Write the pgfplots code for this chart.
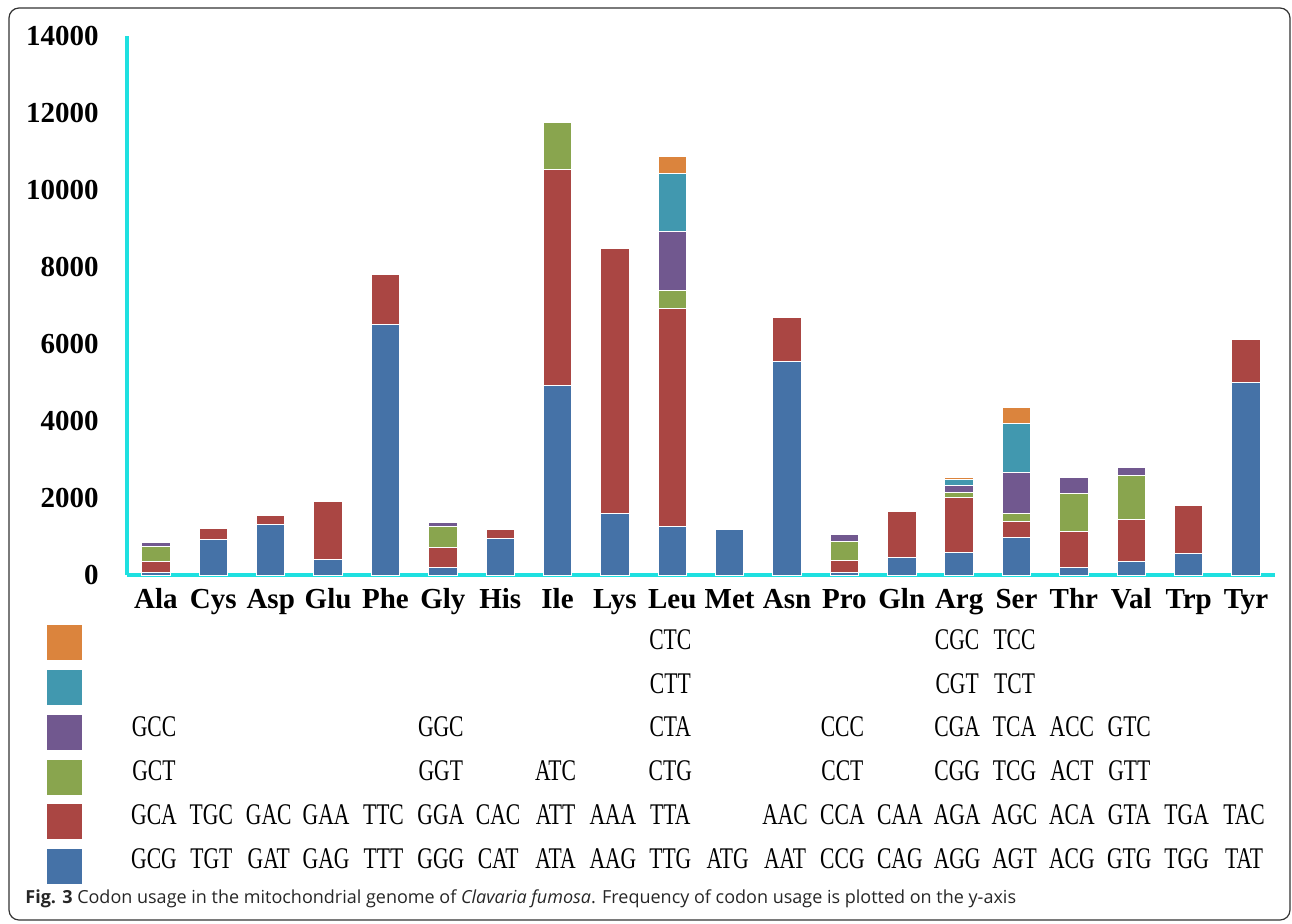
\documentclass[border=0pt]{standalone}
\usepackage{fontspec}
\setmainfont{Liberation Serif}
\newfontfamily\codonfont[FakeStretch=0.72]{Liberation Serif}
\newfontfamily\capfont{Open Sans}
\usepackage{pgfplots}
\pgfplotsset{compat=1.18}
\usepackage{pgfplotstable}
\definecolor{cblue}{HTML}{4572A7}
\definecolor{cred}{HTML}{AA4643}
\definecolor{cgreen}{HTML}{89A54E}
\definecolor{cpurple}{HTML}{71588F}
\definecolor{cteal}{HTML}{4198AF}
\definecolor{corange}{HTML}{DB843D}
\definecolor{axcyan}{HTML}{1EE0E0}

\pgfplotstableread{
x b r g p t o
0 70 285 397 104 0 0
1 926 293 0 0 0 0
2 1323 233 0 0 0 0
3 415 1505 0 0 0 0
4 6503 1305 0 0 0 0
5 200 526 537 104 0 0
6 942 243 0 0 0 0
7 4929 5595 1235 0 0 0
8 1591 6883 0 0 0 0
9 1263 5663 475 1530 1505 441
10 1193 0 0 0 0 0
11 5533 1160 0 0 0 0
12 70 319 485 172 0 0
13 459 1201 0 0 0 0
14 579 1436 121 199 147 60
15 968 415 217 1054 1281 423
16 190 943 977 415 0 0
17 355 1080 1142 207 0 0
18 571 1236 0 0 0 0
19 4989 1116 0 0 0 0
}\codons

\def\rA{-146.5pt}
\def\rB{-124.65pt}
\def\rC{-102.8pt}
\def\rD{-80.95pt}
\def\rE{-59.1pt}
\def\rF{-37.25pt}
\newcommand{\cod}[3]{\node[codon, yshift=#2] at (axis cs:#1,0) {#3};}
\tikzset{codon/.style={font=\codonfont\fontsize{15}{15}\selectfont, anchor=base, inner sep=0pt, xshift=-1pt}}

\begin{document}
\begin{tikzpicture}
\useasboundingbox (0,0) rectangle (646pt,-461.5pt);
\draw[rounded corners=5pt, line width=0.6pt, black!80] (4.5pt,-4pt) rectangle (645pt,-460pt);
\begin{axis}[
  at={(63.5pt,-287.5pt)}, anchor=south west,
  scale only axis, width=574pt, height=269.5pt,
  ybar stacked, bar width=14.2pt,
  xmin=-0.505, xmax=19.505, ymin=0, ymax=14000,
  xtick={0,...,19},
  xticklabels={Ala,Cys,Asp,Glu,Phe,Gly,His,Ile,Lys,Leu,Met,Asn,Pro,Gln,Arg,Ser,Thr,Val,Trp,Tyr},
  ytick={0,2000,4000,6000,8000,10000,12000,14000},
  yticklabels={0,2000,4000,6000,8000,10000,12000,14000},
  scaled y ticks=false,
  axis x line*=bottom, axis y line*=left,
  axis line style={-, draw=axcyan, line width=1.6pt},
  major tick length=0pt,
  xticklabel style={font=\bfseries\fontsize{14.5}{14.5}\selectfont, anchor=base, yshift=-16.5pt, inner sep=0pt},
  yticklabel style={font=\bfseries\fontsize{14.5}{14.5}\selectfont, anchor=east, xshift=-14pt, inner sep=0pt},
  clip=false,
  every axis plot/.append style={draw=white, line width=0.5pt},
  legend style={at={(0,0)}, anchor=north west, xshift=-40.65pt, yshift=-24.5pt,
    draw=none, fill=none, inner sep=0pt, row sep=3.85pt, nodes={inner sep=0pt}},
  legend image code/.code={\fill[#1] (0pt,-9pt) rectangle (18pt,9pt);},
  reverse legend,
]
\addplot[fill=cblue] table[x=x, y=b] {\codons};
\addplot[fill=cred] table[x=x, y=r] {\codons};
\addplot[fill=cgreen] table[x=x, y=g] {\codons};
\addplot[fill=cpurple] table[x=x, y=p] {\codons};
\addplot[fill=cteal] table[x=x, y=t] {\codons};
\addplot[fill=corange] table[x=x, y=o] {\codons};
\legend{\mbox{},\mbox{},\mbox{},\mbox{},\mbox{},\mbox{}}
% blue row
\cod{0}{\rA}{GCG}\cod{1}{\rA}{TGT}\cod{2}{\rA}{GAT}\cod{3}{\rA}{GAG}\cod{4}{\rA}{TTT}
\cod{5}{\rA}{GGG}\cod{6}{\rA}{CAT}\cod{7}{\rA}{ATA}\cod{8}{\rA}{AAG}\cod{9}{\rA}{TTG}
\cod{10}{\rA}{ATG}\cod{11}{\rA}{AAT}\cod{12}{\rA}{CCG}\cod{13}{\rA}{CAG}\cod{14}{\rA}{AGG}
\cod{15}{\rA}{AGT}\cod{16}{\rA}{ACG}\cod{17}{\rA}{GTG}\cod{18}{\rA}{TGG}\cod{19}{\rA}{TAT}
% red row
\cod{0}{\rB}{GCA}\cod{1}{\rB}{TGC}\cod{2}{\rB}{GAC}\cod{3}{\rB}{GAA}\cod{4}{\rB}{TTC}
\cod{5}{\rB}{GGA}\cod{6}{\rB}{CAC}\cod{7}{\rB}{ATT}\cod{8}{\rB}{AAA}\cod{9}{\rB}{TTA}
\cod{11}{\rB}{AAC}\cod{12}{\rB}{CCA}\cod{13}{\rB}{CAA}\cod{14}{\rB}{AGA}
\cod{15}{\rB}{AGC}\cod{16}{\rB}{ACA}\cod{17}{\rB}{GTA}\cod{18}{\rB}{TGA}\cod{19}{\rB}{TAC}
% green row
\cod{0}{\rC}{GCT}\cod{5}{\rC}{GGT}\cod{7}{\rC}{ATC}\cod{9}{\rC}{CTG}\cod{12}{\rC}{CCT}
\cod{14}{\rC}{CGG}\cod{15}{\rC}{TCG}\cod{16}{\rC}{ACT}\cod{17}{\rC}{GTT}
% purple row
\cod{0}{\rD}{GCC}\cod{5}{\rD}{GGC}\cod{9}{\rD}{CTA}\cod{12}{\rD}{CCC}
\cod{14}{\rD}{CGA}\cod{15}{\rD}{TCA}\cod{16}{\rD}{ACC}\cod{17}{\rD}{GTC}
% teal row
\cod{9}{\rE}{CTT}\cod{14}{\rE}{CGT}\cod{15}{\rE}{TCT}
% orange row
\cod{9}{\rF}{CTC}\cod{14}{\rF}{CGC}\cod{15}{\rF}{TCC}
\end{axis}
\node[anchor=base west, inner sep=0pt, font=\capfont\fontsize{9}{10}\selectfont, text=black!85] at (12.5pt,-451.5pt)
  {\textbf{Fig. 3} Codon usage in the mitochondrial genome of \textit{Clavaria fumosa}. Frequency of codon usage is plotted on the y-axis};
\end{tikzpicture}
\end{document}
